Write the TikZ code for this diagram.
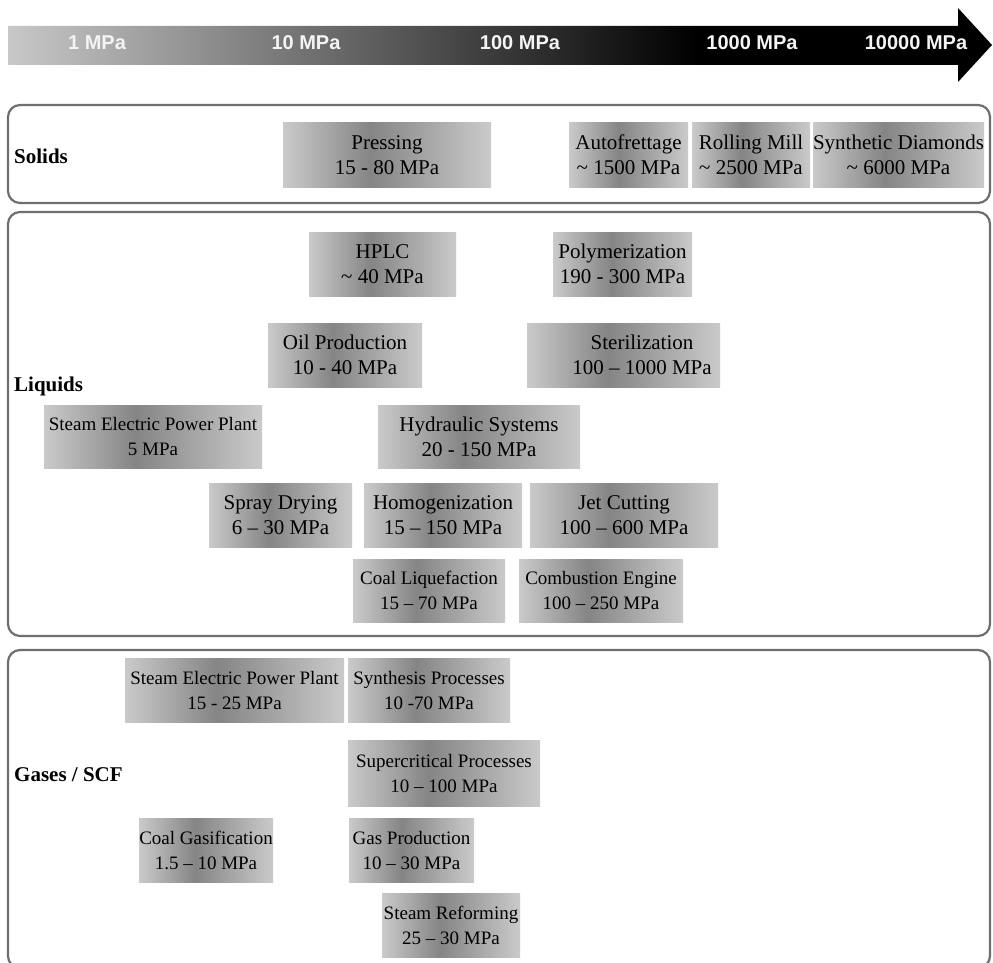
\documentclass[tikz,border=0pt]{standalone}
\usepackage{fontspec}
\setmainfont{Liberation Serif}
\newfontfamily\sansfnt{Liberation Sans}
\definecolor{boxlight}{HTML}{CACACA}
\definecolor{boxdark}{HTML}{858585}
\definecolor{arrlight}{HTML}{C8C8C8}
\definecolor{framecol}{HTML}{6E6E6E}
\definecolor{scaletext}{HTML}{F4F4F4}
\pgfdeclarehorizontalshading{boxshade}{100bp}{color(0bp)=(boxlight); color(25bp)=(boxlight); color(46bp)=(boxdark); color(75bp)=(boxlight); color(100bp)=(boxlight)}
\pgfdeclarehorizontalshading{arrowshade}{100bp}{color(0bp)=(arrlight); color(25bp)=(arrlight); color(60bp)=(black); color(100bp)=(black)}
\tikzset{
  pbox/.style={shading=boxshade, draw=none, inner sep=0pt, align=center, text=black,
    font=\fontsize{21}{25}\selectfont},
  sbox/.style={pbox, font=\fontsize{19}{25}\selectfont},
  frame/.style={draw=framecol, line width=2.2pt, rounded corners=12pt},
  grouplbl/.style={anchor=west, inner sep=0pt, font=\fontsize{21}{25}\selectfont\bfseries},
  scalelbl/.style={inner sep=0pt, text=scaletext, font=\sansfnt\bfseries\fontsize{20}{24}\selectfont},
}
\newcommand\pbox[7]{\node[#1, minimum width=#5pt, minimum height=#6pt] (#2) at (#3,#4) {#7};}
\begin{document}
\begin{tikzpicture}[x=1pt,y=-1pt]
\useasboundingbox (0,0) rectangle (993,963);
% pressure scale arrow
\path[shading=arrowshade] (8,26) -- (958,26) -- (958,8) -- (992,45) -- (958,82) -- (958,65) -- (8,65) -- cycle;
\node[scalelbl] (p1) at (97,43) {1 MPa};
\node[scalelbl] (p10) at (306,43) {10 MPa};
\node[scalelbl] (p100) at (520,43) {100 MPa};
\node[scalelbl] (p1000) at (752,43) {1000 MPa};
\node[scalelbl] (p10000) at (916,43) {10000 MPa};
% frames
\draw[frame] (8,105) rectangle (990,203);
\draw[frame] (8,212) rectangle (990,636);
\draw[frame] (8,650) rectangle (990,968);
\node[grouplbl] (solids) at (14,156) {Solids};
\node[grouplbl] (liquids) at (14,386) {Liquids};
\node[grouplbl] (gases) at (14,775) {Gases / SCF};
% solids
\pbox{pbox}{press}{387}{155}{208}{64}{Pressing\\15 - 80 MPa}
\pbox{pbox}{autof}{628.5}{155}{119}{64}{Autofrettage\\\textasciitilde{} 1500 MPa}
\pbox{pbox}{roll}{751}{155}{118}{64}{Rolling Mill\\\textasciitilde{} 2500 MPa}
\pbox{pbox}{diam}{898.5}{155}{171}{64}{Synthetic Diamonds\\\textasciitilde{} 6000 MPa}
% liquids
\pbox{pbox}{hplc}{382.5}{264}{147}{64}{HPLC\\\textasciitilde{} 40 MPa}
\pbox{pbox}{poly}{622.5}{264}{139}{64}{Polymerization\\190 - 300 MPa}
\pbox{pbox}{oil}{345}{355}{154}{64}{Oil Production\\10 - 40 MPa}
\pbox{pbox}{ster}{623.5}{355}{193}{64}{}
\node[inner sep=0pt, align=center, text=black, font=\fontsize{21}{25}\selectfont] (stertext) at (642,355) {Sterilization\\100 – 1000 MPa};
\pbox{sbox}{steamL}{153}{436.5}{218}{63}{Steam Electric Power Plant\\5 MPa}
\pbox{pbox}{hydr}{479}{436.5}{202}{63}{Hydraulic Systems\\20 - 150 MPa}
\pbox{pbox}{spray}{280.5}{515}{143}{64}{Spray Drying\\6 – 30 MPa}
\pbox{pbox}{homog}{443}{515}{158}{64}{Homogenization\\15 – 150 MPa}
\pbox{pbox}{jet}{624}{515}{188}{64}{Jet Cutting\\100 – 600 MPa}
\pbox{sbox}{coalL}{429}{590.5}{152}{63}{Coal Liquefaction\\15 – 70 MPa}
\pbox{sbox}{comb}{601}{590.5}{164}{63}{Combustion Engine\\100 – 250 MPa}
% gases
\pbox{sbox}{steamG}{234.5}{690}{219}{64}{Steam Electric Power Plant\\15 - 25 MPa}
\pbox{sbox}{synth}{429}{690}{162}{64}{Synthesis Processes\\10 -70 MPa}
\pbox{sbox}{superc}{444}{773}{192}{66}{Supercritical Processes\\10 – 100 MPa}
\pbox{sbox}{coalG}{206}{850}{134}{64}{Coal Gasification\\1.5 – 10 MPa}
\pbox{sbox}{gasP}{411.5}{850}{125}{64}{Gas Production\\10 – 30 MPa}
\pbox{sbox}{steamR}{451}{925}{138}{64}{Steam Reforming\\25 – 30 MPa}
\end{tikzpicture}
\end{document}
